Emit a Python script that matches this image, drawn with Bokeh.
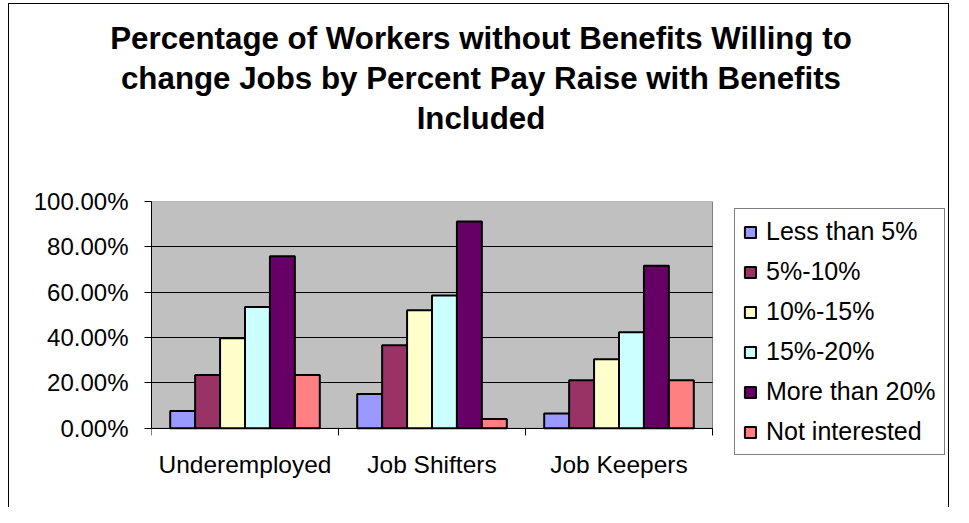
from bokeh.plotting import figure
from bokeh.layouts import column
from bokeh.models import (ColumnDataSource, Range1d, FixedTicker, NumeralTickFormatter,
                          Legend, LegendItem, Div, BoxAnnotation, Grid, LinearAxis)
from bokeh.transform import dodge
from bokeh.embed import file_html
from bokeh.resources import INLINE

# ---- data ----
categories = ["Underemployed", "Job Shifters", "Job Keepers"]
series_names = ["Less than 5%", "5%-10%", "10%-15%", "15%-20%", "More than 20%", "Not interested"]
less_than_5 = [0.076, 0.151, 0.065]
pct_5_10 = [0.235, 0.366, 0.212]
pct_10_15 = [0.397, 0.520, 0.305]
pct_15_20 = [0.535, 0.585, 0.424]
more_than_20 = [0.759, 0.912, 0.717]
not_interested = [0.235, 0.041, 0.212]
y_ticks = [0.0, 0.2, 0.4, 0.6, 0.8, 1.0]
title_lines = ["Percentage of Workers without Benefits Willing to",
               "change Jobs by Percent Pay Raise with Benefits",
               "Included"]

series_values = [less_than_5, pct_5_10, pct_10_15, pct_15_20, more_than_20, not_interested]
colors = ["#9999FF", "#993366", "#FFFFCC", "#CCFFFF", "#660066", "#FF8080"]

FONT = "Liberation Sans"
W = 953
TITLE_H = 170
FIG_H = 507 - TITLE_H
N = len(categories)

# layout constants (pixels)
BORDER_L, BORDER_R, BORDER_T, BORDER_B = 151, 5, 31, 52
PLOT_W_PX = 561          # width of the grey plot area
PX_PER_UNIT_Y = 226.8    # height of 0..100%
frame_w = W - BORDER_L - BORDER_R
frame_h = FIG_H - BORDER_T - BORDER_B
x_end = N * frame_w / PLOT_W_PX
y_start = 1.0 - frame_h / PX_PER_UNIT_Y

cat_pos = [i + 0.5 for i in range(N)]
data = {"x": cat_pos}
for i, vals in enumerate(series_values):
    data[f"s{i}"] = vals
source = ColumnDataSource(data)

p = figure(width=W, height=FIG_H, output_backend="svg", toolbar_location=None,
           x_range=Range1d(0, x_end), y_range=Range1d(y_start, 1.0),
           min_border_left=BORDER_L, min_border_right=BORDER_R,
           min_border_top=BORDER_T, min_border_bottom=BORDER_B)
p.background_fill_alpha = 0
p.border_fill_alpha = 0
p.outline_line_color = None

# grey plot area
p.add_layout(BoxAnnotation(left=0, right=N, bottom=0, top=1.0, level="image",
                           fill_color="#C0C0C0", fill_alpha=1.0,
                           line_color="#808080", line_width=1, line_alpha=1.0))

bar_w = 1 / 7.5
items = []
for i, name in enumerate(series_names):
    off = (i - 2.5) * bar_w
    r = p.vbar(x=dodge("x", off), top=f"s{i}", width=bar_w, source=source,
               fill_color=colors[i], line_color="black", line_width=2)
    items.append(LegendItem(label=name, renderers=[r]))

# grid
p.xgrid.grid_line_color = None
if "cross_bounds" in Grid.properties():
    p.ygrid.grid_line_color = "black"
    p.ygrid.grid_line_width = 1
    p.ygrid.ticker = FixedTicker(ticks=y_ticks)
    p.ygrid.bounds = (0, 1)
    p.ygrid.cross_bounds = (0, N)
else:
    p.ygrid.grid_line_color = None
    p.segment(x0=0, x1=N, y0=y_ticks, y1=y_ticks, line_color="black", line_width=1,
              level="underlay")

# y axis
p.yaxis.ticker = FixedTicker(ticks=y_ticks)
p.yaxis.bounds = (0, 1)
p.yaxis.formatter = NumeralTickFormatter(format="0.00%")
p.yaxis.major_label_text_font = FONT
p.yaxis.major_label_text_font_size = "24px"
p.yaxis.major_label_text_color = "black"
p.yaxis.major_tick_out = 7
p.yaxis.major_tick_in = 0
p.yaxis.minor_tick_out = 0
p.yaxis.minor_tick_in = 0
p.yaxis.axis_line_color = "black"
p.yaxis.major_tick_line_color = "black"
p.yaxis.major_label_standoff = 16

# category labels: the default bottom axis, labels only
xlab = p.xaxis[0]
xlab.ticker = FixedTicker(ticks=cat_pos)
xlab.major_label_overrides = {cat_pos[i]: c for i, c in enumerate(categories)}
xlab.major_label_text_font = FONT
xlab.major_label_text_font_size = "24.5px"
xlab.major_label_text_color = "black"
xlab.major_tick_out = 0
xlab.major_tick_in = 0
xlab.minor_tick_out = 0
xlab.minor_tick_in = 0
xlab.axis_line_color = None
xlab.major_tick_line_color = None
xlab.minor_tick_line_color = None
xlab.major_label_standoff = -5

# category axis line with boundary ticks, pinned at y = 0 (no labels drawn)
xline = LinearAxis(fixed_location=0, bounds=(0, N),
                   ticker=FixedTicker(ticks=list(range(N + 1))),
                   major_label_text_color=None, major_label_text_font_size="8px",
                   major_label_standoff=0,
                   major_tick_in=7, major_tick_out=0, minor_tick_in=0, minor_tick_out=0,
                   major_tick_line_color="black", axis_line_color="black")
p.add_layout(xline, "above")

# legend inside the (wide) frame
legend = Legend(items=items, location=(583, 0), orientation="vertical",
                label_text_font=FONT, label_text_font_size="25px", label_text_color="black",
                glyph_width=14, glyph_height=14, label_standoff=9,
                spacing=11, padding=8, margin=0,
                border_line_color="black", border_line_width=1,
                background_fill_color="white", background_fill_alpha=1.0)
p.add_layout(legend, "center")

# title as HTML block above the plot
title_html = (
    '<div style="width:%dpx;box-sizing:border-box;padding:19px 0 0 9px;text-align:center;'
    'font-family:\'Liberation Sans\',Arial,sans-serif;font-weight:bold;font-size:31.3px;'
    'line-height:40.2px;color:black;">%s</div>' % (W, "<br>".join(title_lines))
)
title_div = Div(text=title_html, width=W, height=TITLE_H, margin=0)

bg = ("linear-gradient(black,black) 8px 3px / 1px 100% no-repeat, "
      "linear-gradient(black,black) 948px 3px / 1px 100% no-repeat, "
      "linear-gradient(black,black) 8px 3px / 941px 1px no-repeat, white")
layout = column(title_div, p, spacing=0, width=W, height=507,
                styles={"background": bg})

open("out.html", "w").write(file_html(layout, INLINE))
